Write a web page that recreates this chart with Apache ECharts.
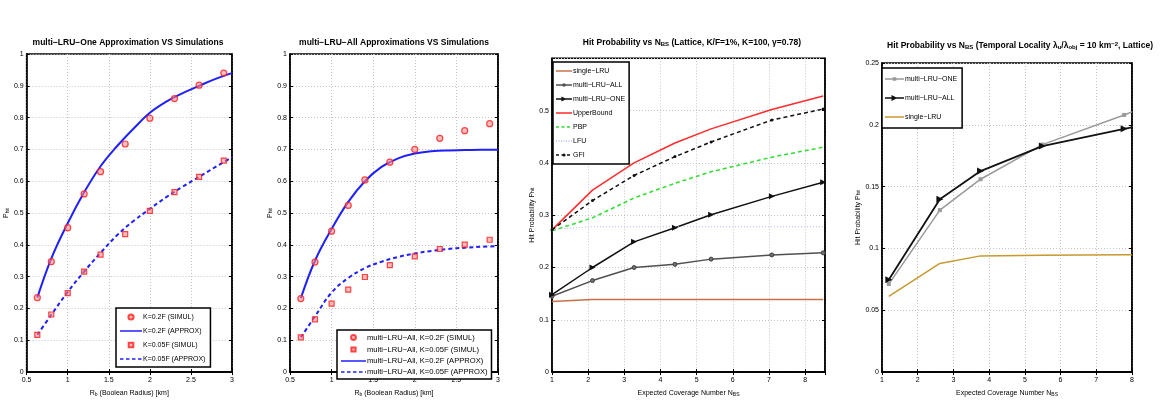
<!DOCTYPE html>
<html>
<head>
<meta charset="utf-8">
<script src="https://cdn.jsdelivr.net/npm/echarts@6.0.0/dist/echarts.min.js"></script>
<style>
  html, body { margin: 0; padding: 0; background: #fff; }
  #main { width: 1161px; height: 402px; }
</style>
</head>
<body>
<div id="main"></div>
<script>
// plot 1 + 2: boolean radius sweep
var rbSimul = [0.63, 0.8, 1.0, 1.2, 1.4, 1.7, 2.0, 2.3, 2.6, 2.9];
var rbApprox = [0.63, 0.8, 1.0, 1.2, 1.4, 1.6, 1.8, 2.0, 2.2, 2.4, 2.6, 2.8, 3.0];

var oneSimul02 = [0.234, 0.347, 0.454, 0.56, 0.63, 0.717, 0.798, 0.86, 0.902, 0.94];
var oneSimul005 = [0.117, 0.181, 0.248, 0.316, 0.369, 0.434, 0.507, 0.566, 0.614, 0.665];
var oneApprox02 = [0.234, 0.357, 0.468, 0.565, 0.647, 0.71, 0.765, 0.815, 0.85, 0.877, 0.9, 0.922, 0.94];
var oneApprox005 = [0.117, 0.18, 0.252, 0.316, 0.375, 0.43, 0.475, 0.513, 0.55, 0.583, 0.614, 0.645, 0.675];

var allSimul02 = [0.231, 0.346, 0.443, 0.524, 0.604, 0.66, 0.70, 0.735, 0.759, 0.781];
var allSimul005 = [0.109, 0.166, 0.215, 0.259, 0.299, 0.336, 0.364, 0.387, 0.401, 0.416];
var allApprox02 = [0.232, 0.35, 0.45, 0.535, 0.6, 0.645, 0.672, 0.687, 0.694, 0.697, 0.698, 0.699, 0.699];
var allApprox005 = [0.109, 0.175, 0.25, 0.296, 0.327, 0.347, 0.362, 0.373, 0.381, 0.387, 0.391, 0.394, 0.396];

// plot 3: lattice, K/F=1%
var nbs3 = [1, 2.12, 3.27, 4.4, 5.4, 7.08, 8.5];
var single3 = [0.135, 0.139, 0.139, 0.139, 0.139, 0.139, 0.139];
var multiAll3 = [0.145, 0.175, 0.2, 0.206, 0.216, 0.224, 0.228];
var multiOne3 = [0.148, 0.2, 0.249, 0.276, 0.301, 0.336, 0.363];
var upper3 = [0.272, 0.348, 0.4, 0.438, 0.465, 0.502, 0.528];
var pbp3 = [0.27, 0.295, 0.333, 0.361, 0.383, 0.411, 0.43];
var lfu3 = [0.273, 0.278, 0.278, 0.278, 0.278, 0.278, 0.278];
var gfi3 = [0.272, 0.328, 0.376, 0.412, 0.44, 0.482, 0.503];

// plot 4: temporal locality
var nbs4 = [1.19, 2.62, 3.76, 5.49, 7.78, 8];
var multiOne4 = [0.0712, 0.131, 0.156, 0.184, 0.208, 0.2105];
var multiAll4 = [0.0747, 0.1398, 0.1626, 0.1828, 0.1968, 0.198];
var single4 = [0.0613, 0.0879, 0.094, 0.0945, 0.095, 0.095];

var FONT = 'Liberation Sans';
var M = '\u2212';

function pairs(xs, ys, lastBare) {
  return ys.map(function (y, i) {
    if (lastBare && i === ys.length - 1) return { value: [xs[i], y], symbol: 'none' };
    return [xs[i], y];
  });
}

// legend icons as paths; bounds = w x h so nothing gets stretched
function linePart(w, h, dash, gap) {
  var y = h / 2 - 0.75, p = '';
  if (!dash) return ' M0,' + y + 'h' + w + 'v1.5h-' + w + 'z';
  for (var x = 0; x < w; x += dash + gap) {
    var d = Math.min(dash, w - x);
    p += ' M' + x + ',' + y + 'h' + d + 'v1.5h-' + d + 'z';
  }
  return p;
}
function dotPart(w, h, r) {
  var cx = w / 2, cy = h / 2;
  return ' M' + (cx - r) + ',' + cy + ' A' + r + ',' + r + ' 0 1 1 ' + (cx + r) + ',' + cy + ' A' + r + ',' + r + ' 0 1 1 ' + (cx - r) + ',' + cy + 'Z';
}
function boxPart(w, h, r) {
  var cx = w / 2, cy = h / 2;
  return ' M' + (cx - r) + ',' + (cy - r) + 'h' + (2 * r) + 'v' + (2 * r) + 'h-' + (2 * r) + 'z';
}
function triPart(w, h, r) {
  var cx = w / 2, cy = h / 2;
  return ' M' + (cx - r) + ',' + (cy - r) + ' L' + (cx + r) + ',' + cy + ' L' + (cx - r) + ',' + (cy + r) + 'Z';
}
function icon(w, h, parts) {
  return 'path://M0,0 M' + w + ',' + h + parts;
}

var axisLineStyle = { show: true, lineStyle: { color: '#000', width: 1.5 } };
var tickStyle = { inside: true, length: 3, lineStyle: { color: '#000' } };
var gridLine = { show: true, lineStyle: { color: '#c4c4c4', type: [1, 2], width: 1 } };
var nameRich = {
  t: { fontSize: 7, fontFamily: FONT, color: '#000' },
  s: { fontSize: 5, fontFamily: FONT, color: '#000', verticalAlign: 'bottom', lineHeight: 5, padding: [4, 0, 0, 0] }
};

function xAx(grid, min, max, interval, name, gap) {
  return {
    type: 'value', gridIndex: grid, min: min, max: max, interval: interval,
    name: name, nameLocation: 'middle', nameGap: gap,
    nameTextStyle: { fontFamily: FONT, fontSize: 7, color: '#000', rich: nameRich },
    axisLine: axisLineStyle, axisTick: tickStyle,
    axisLabel: { fontFamily: FONT, fontSize: 7, color: '#000', margin: 4, showMaxLabel: Math.abs(Math.round(max / interval) * interval - max) < 1e-9 },
    splitLine: gridLine
  };
}

function yAx(grid, min, max, interval, name, gap, hideMax) {
  return {
    type: 'value', gridIndex: grid, min: min, max: max, interval: interval,
    name: name, nameLocation: 'middle', nameGap: gap, nameRotate: 90,
    nameTextStyle: { fontFamily: FONT, fontSize: 7, color: '#000', rich: nameRich },
    axisLine: axisLineStyle, axisTick: tickStyle,
    axisLabel: { fontFamily: FONT, fontSize: 7, color: '#000', margin: 3, showMaxLabel: !hideMax },
    splitLine: gridLine
  };
}

// mirror axes so the box gets ticks on top and right too
function mirror(kind, grid, min, max, interval) {
  return {
    type: 'value', gridIndex: grid, min: min, max: max, interval: interval,
    position: kind === 'x' ? 'top' : 'right',
    axisLine: axisLineStyle, axisTick: tickStyle,
    axisLabel: { show: false }, splitLine: { show: false }
  };
}

function legendBox(left, top, items, gap, w, h, pad, fs) {
  return {
    orient: 'vertical', left: left, top: top, data: items,
    backgroundColor: '#fff', borderColor: '#000', borderWidth: 1.5, borderRadius: 0,
    padding: pad, itemGap: gap, itemWidth: w, itemHeight: h,
    textStyle: { fontFamily: FONT, fontSize: fs, color: '#000', padding: [0, 0, 0, -4] },
    selectedMode: false
  };
}

var titleRich = {
  t: { fontFamily: FONT, fontSize: 8.5, fontWeight: 'bold', color: '#000' },
  s: { fontFamily: FONT, fontSize: 6, fontWeight: 'bold', color: '#000', verticalAlign: 'bottom', lineHeight: 6, padding: [5, 0, 0, 0] },
  p: { fontFamily: FONT, fontSize: 6, fontWeight: 'bold', color: '#000', verticalAlign: 'top', lineHeight: 6, padding: [0, 0, 5, 0] }
};

function title(text, x, y) {
  return { text: text, left: x, top: y, textAlign: 'center', padding: 0, textStyle: { fontFamily: FONT, fontSize: 8.5, fontWeight: 'bold', color: '#000', rich: titleRich } };
}

var blue = '#1f1fff';
var simulStyle = { color: 'rgba(255,140,140,0.7)', borderColor: '#ff1a1a', borderWidth: 1.2 };

var n1 = ['K=0.2F (SIMUL)', 'K=0.2F (APPROX)', 'K=0.05F (SIMUL)', 'K=0.05F (APPROX)'];
var n2 = ['multi' + M + 'LRU' + M + 'All, K=0.2F (SIMUL)', 'multi' + M + 'LRU' + M + 'All, K=0.05F (SIMUL)', 'multi' + M + 'LRU' + M + 'All, K=0.2F (APPROX)', 'multi' + M + 'LRU' + M + 'All, K=0.05F (APPROX)'];
var n3 = ['single' + M + 'LRU', 'multi' + M + 'LRU' + M + 'ALL', 'multi' + M + 'LRU' + M + 'ONE', 'UpperBound', 'PBP', 'LFU', 'GFI'];
// zero width space keeps plot 4 names apart from plot 3 ones
var n4 = ['multi' + M + 'LRU' + M + 'ONE\u200b', 'multi' + M + 'LRU' + M + 'ALL\u200b', 'single' + M + 'LRU\u200b'];

var option = {
  backgroundColor: '#fff',
  animation: false,
  title: [
    title('{t|multi' + M + 'LRU' + M + 'One Approximation VS Simulations}', 128, 38),
    title('{t|multi' + M + 'LRU' + M + 'All Approximations VS Simulations}', 394, 38),
    title('{t|Hit Probability vs N}{s|BS}{t| (Lattice, K/F=1%, K=100, \u03b3=0.78)}', 692, 38),
    title('{t|Hit Probability vs N}{s|BS}{t| (Temporal Locality \u03bb}{s|u}{t|/\u03bb}{s|obj}{t| = 10 km}{p|' + M + '2}{t|, Lattice)}', 1020, 41)
  ],
  grid: [
    { left: 23.5, top: 54, width: 208.5, height: 324, show: true, borderColor: '#000', borderWidth: 1.5 },
    { left: 290, top: 54, width: 208, height: 324, show: true, borderColor: '#000', borderWidth: 1.5 },
    { left: 552, top: 58.3, width: 273, height: 318.7, show: true, borderColor: '#000', borderWidth: 1.5 },
    { left: 882, top: 63, width: 250, height: 310.3, show: true, borderColor: '#000', borderWidth: 1.5 }
  ],
  xAxis: [
    xAx(0, 0.5, 3, 0.5, '{t|R}{s|b}{t| (Boolean Radius) [km]}', 9),
    xAx(1, 0.5, 3, 0.5, '{t|R}{s|b}{t| (Boolean Radius) [km]}', 9),
    xAx(2, 1, 8.55, 1, '{t|Expected Coverage Number N}{s|BS}', 9),
    xAx(3, 1, 8, 1, '{t|Expected Coverage Number N}{s|BS}', 5),
    mirror('x', 0, 0.5, 3, 0.5),
    mirror('x', 1, 0.5, 3, 0.5),
    mirror('x', 2, 1, 8.55, 1),
    mirror('x', 3, 1, 8, 1)
  ],
  yAxis: [
    yAx(0, 0, 1, 0.1, '{t|P}{s|hit}', 14, false),
    yAx(1, 0, 1, 0.1, '{t|P}{s|hit}', 14, false),
    yAx(2, 0, 0.6, 0.1, '{t|Hit Probability P}{s|hit}', 16, true),
    yAx(3, 0, 0.25, 0.05, '{t|Hit Probability P}{s|hit}', 20, false),
    mirror('y', 0, 0, 1, 0.1),
    mirror('y', 1, 0, 1, 0.1),
    mirror('y', 2, 0, 0.6, 0.1),
    mirror('y', 3, 0, 0.25, 0.05)
  ],
  legend: [
    legendBox(116, 308, [
      { name: n1[0], icon: icon(22, 8, dotPart(22, 8, 2.6)) },
      { name: n1[1], icon: icon(22, 8, linePart(22, 8)) },
      { name: n1[2], icon: icon(22, 8, boxPart(22, 8, 2.3)) },
      { name: n1[3], icon: icon(22, 8, linePart(22, 8, 3.5, 2.5)) }
    ], 5, 22, 8, [4, 5, 4, 3], 7),
    legendBox(337, 330, [
      { name: n2[0], icon: icon(25, 7, dotPart(25, 7, 2.4)) },
      { name: n2[1], icon: icon(25, 7, boxPart(25, 7, 2.1)) },
      { name: n2[2], icon: icon(25, 7, linePart(25, 7)) },
      { name: n2[3], icon: icon(25, 7, linePart(25, 7, 3.5, 2.5)) }
    ], 3, 25, 7, [3, 4, 3, 3], 7.6),
    legendBox(553, 62, [
      { name: n3[0], icon: icon(16, 8, linePart(16, 8)) },
      { name: n3[1], icon: icon(16, 8, linePart(16, 8) + dotPart(16, 8, 1.8)), itemStyle: { color: '#505050', borderWidth: 0 } },
      { name: n3[2], icon: icon(16, 8, linePart(16, 8) + triPart(16, 8, 2.6)) },
      { name: n3[3], icon: icon(16, 8, linePart(16, 8)) },
      { name: n3[4], icon: icon(16, 8, linePart(16, 8, 3, 2.5)) },
      { name: n3[5], icon: icon(16, 8, linePart(16, 8, 1, 1.5)) },
      { name: n3[6], icon: icon(16, 8, linePart(16, 8, 3, 2.5) + dotPart(16, 8, 1.6)) }
    ], 6, 16, 8, [5, 4, 5, 3], 7),
    legendBox(882, 68, [
      { name: n4[0], icon: icon(19, 10, linePart(19, 10) + boxPart(19, 10, 1.8)) },
      { name: n4[1], icon: icon(19, 10, linePart(19, 10) + triPart(19, 10, 3)) },
      { name: n4[2], icon: icon(19, 10, linePart(19, 10)) }
    ], 9, 19, 10, [6, 5, 6, 3], 7)
  ],
  series: [
    // plot 1
    { name: n1[0], type: 'scatter', xAxisIndex: 0, yAxisIndex: 0, data: pairs(rbSimul, oneSimul02), symbol: 'circle', symbolSize: 6, itemStyle: simulStyle, z: 5 },
    { name: n1[1], type: 'line', xAxisIndex: 0, yAxisIndex: 0, data: pairs(rbApprox, oneApprox02), smooth: 0.4, symbol: 'none', lineStyle: { color: blue, width: 2 }, itemStyle: { color: blue } },
    { name: n1[2], type: 'scatter', xAxisIndex: 0, yAxisIndex: 0, data: pairs(rbSimul, oneSimul005), symbol: 'rect', symbolSize: 5, itemStyle: simulStyle, z: 5 },
    { name: n1[3], type: 'line', xAxisIndex: 0, yAxisIndex: 0, data: pairs(rbApprox, oneApprox005), smooth: 0.4, symbol: 'none', lineStyle: { color: blue, width: 2, type: [4, 3] }, itemStyle: { color: blue } },
    // plot 2
    { name: n2[0], type: 'scatter', xAxisIndex: 1, yAxisIndex: 1, data: pairs(rbSimul, allSimul02), symbol: 'circle', symbolSize: 6, itemStyle: simulStyle, z: 5 },
    { name: n2[1], type: 'scatter', xAxisIndex: 1, yAxisIndex: 1, data: pairs(rbSimul, allSimul005), symbol: 'rect', symbolSize: 5, itemStyle: simulStyle, z: 5 },
    { name: n2[2], type: 'line', xAxisIndex: 1, yAxisIndex: 1, data: pairs(rbApprox, allApprox02), smooth: 0.4, symbol: 'none', lineStyle: { color: blue, width: 2 }, itemStyle: { color: blue } },
    { name: n2[3], type: 'line', xAxisIndex: 1, yAxisIndex: 1, data: pairs(rbApprox, allApprox005), smooth: 0.4, symbol: 'none', lineStyle: { color: blue, width: 2, type: [4, 3] }, itemStyle: { color: blue } },
    // plot 3
    { name: n3[0], type: 'line', xAxisIndex: 2, yAxisIndex: 2, data: pairs(nbs3, single3), symbol: 'none', lineStyle: { color: '#c8704c', width: 1.5 }, itemStyle: { color: '#c8704c' } },
    { name: n3[1], type: 'line', xAxisIndex: 2, yAxisIndex: 2, data: pairs(nbs3, multiAll3), symbol: 'circle', symbolSize: 4, lineStyle: { color: '#505050', width: 1.5 }, itemStyle: { color: '#707070', borderColor: '#404040', borderWidth: 1 } },
    { name: n3[2], type: 'line', xAxisIndex: 2, yAxisIndex: 2, data: pairs(nbs3, multiOne3), symbol: 'triangle', symbolRotate: -90, symbolSize: 6, lineStyle: { color: '#111', width: 1.5 }, itemStyle: { color: '#111' } },
    { name: n3[3], type: 'line', xAxisIndex: 2, yAxisIndex: 2, data: pairs(nbs3, upper3), symbol: 'none', lineStyle: { color: '#ff2a2a', width: 1.5 }, itemStyle: { color: '#ff2a2a' } },
    { name: n3[4], type: 'line', xAxisIndex: 2, yAxisIndex: 2, data: pairs(nbs3, pbp3), symbol: 'none', lineStyle: { color: '#2ee02e', width: 1.5, type: [4, 3] }, itemStyle: { color: '#2ee02e' } },
    { name: n3[5], type: 'line', xAxisIndex: 2, yAxisIndex: 2, data: pairs(nbs3, lfu3), symbol: 'none', lineStyle: { color: '#b4b8ff', width: 1, type: [1, 2] }, itemStyle: { color: '#b4b8ff' } },
    { name: n3[6], type: 'line', xAxisIndex: 2, yAxisIndex: 2, data: pairs(nbs3, gfi3), symbol: 'circle', symbolSize: 3, lineStyle: { color: '#111', width: 1.5, type: [4, 3] }, itemStyle: { color: '#111' } },
    // plot 4
    { name: n4[0], type: 'line', xAxisIndex: 3, yAxisIndex: 3, data: pairs(nbs4, multiOne4, true), symbol: 'rect', symbolSize: 4, lineStyle: { color: '#9a9a9a', width: 1.5 }, itemStyle: { color: '#9a9a9a' } },
    { name: n4[1], type: 'line', xAxisIndex: 3, yAxisIndex: 3, data: pairs(nbs4, multiAll4, true), symbol: 'triangle', symbolRotate: -90, symbolSize: 7, lineStyle: { color: '#111', width: 1.8 }, itemStyle: { color: '#111' } },
    { name: n4[2], type: 'line', xAxisIndex: 3, yAxisIndex: 3, data: pairs(nbs4, single4), symbol: 'none', lineStyle: { color: '#c9992e', width: 1.5 }, itemStyle: { color: '#c9992e' } }
  ]
};

var chart = echarts.init(document.getElementById('main'));
chart.setOption(option);
</script>
</body>
</html>
